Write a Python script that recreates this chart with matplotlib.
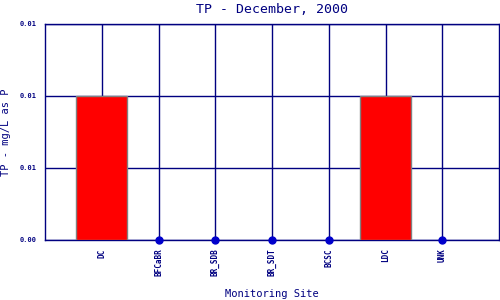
import numpy as np
import matplotlib
matplotlib.use("Agg")
import matplotlib.pyplot as plt
from matplotlib.ticker import FormatStrFormatter

# Data
sites = ["DC", "BFCaBR", "BR_SDB", "BR_SDT", "BCSC", "LDC", "UNK"]
tp_values = [0.01, 0.0, 0.0, 0.0, 0.0, 0.01, 0.0]
y_ticks = [0.0, 0.005, 0.01, 0.015]

navy = "#000080"
plt.rcParams["font.family"] = "DejaVu Sans Mono"

fig = plt.figure(figsize=(5, 3), dpi=100)
ax = fig.add_axes([0.09, 0.2, 0.908, 0.72])

x = np.arange(len(sites))
vals = np.array(tp_values)

# bars for non-zero values, dots for zero values
nz = vals > 0
ax.bar(x[nz], vals[nz], width=0.9, color="#ff0000", edgecolor="#808080",
       linewidth=1, zorder=3)
ax.plot(x[~nz], vals[~nz], "o", color="#0000cc", markersize=5,
        clip_on=False, zorder=4)

ax.set_xlim(-1, len(sites))
ax.set_ylim(0, 0.015)
ax.set_xticks(x)
ax.set_xticklabels(sites, rotation=90, fontsize=5.5, color=navy,
                   fontweight="bold")
ax.set_yticks(y_ticks)
ax.yaxis.set_major_formatter(FormatStrFormatter("%.2f"))
for lab in ax.get_yticklabels():
    lab.set_fontsize(5)
    lab.set_fontweight("bold")
    lab.set_color(navy)
ax.tick_params(length=0, pad=6)

ax.grid(True, color=navy, linewidth=1.0, zorder=1)
ax.set_axisbelow(True)
for s in ax.spines.values():
    s.set_color(navy)
    s.set_linewidth(1.0)

ax.set_title("TP - December, 2000", fontsize=9.5, color=navy, pad=8)
ax.set_xlabel("Monitoring Site", fontsize=7.5, color=navy, labelpad=9)
ax.set_ylabel("TP - mg/L as P", fontsize=7.5, color=navy, labelpad=6)

fig.savefig("out.png", dpi=100)
